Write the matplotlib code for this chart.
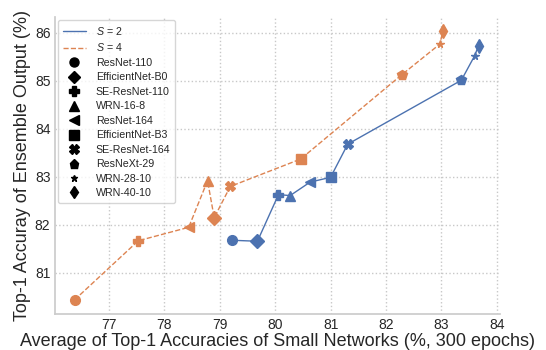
import numpy as np
import matplotlib
matplotlib.use('Agg')
import matplotlib.pyplot as plt
import seaborn as sns
from matplotlib.lines import Line2D

models = ['ResNet-110', 'EfficientNet-B0', 'SE-ResNet-110', 'WRN-16-8', 'ResNet-164',
          'EfficientNet-B3', 'SE-ResNet-164', 'ResNeXt-29', 'WRN-28-10', 'WRN-40-10']
markers = ['o', 'D', 'P', '^', '<', 's', 'X', 'p', '*', 'd']

# S = 2
s2_x = [79.23, 79.68, 80.06, 80.27, 80.63, 81.00, 81.31, 83.36, 83.60, 83.67]
s2_y = [81.68, 81.66, 82.63, 82.61, 82.89, 82.99, 83.68, 85.01, 85.52, 85.73]
# S = 4
s4_x = [76.38, 78.90, 77.53, 78.78, 78.44, 80.46, 79.19, 82.28, 82.97, 83.03]
s4_y = [80.44, 82.15, 81.67, 82.92, 81.95, 83.37, 82.80, 85.12, 85.76, 86.04]

sns.set_theme(style='whitegrid', rc={'grid.linestyle': ':', 'grid.color': '#c8c8c8'})
plt.rcParams['font.family'] = ['Liberation Sans', 'DejaVu Sans']
plt.rcParams['mathtext.fontset'] = 'custom'
plt.rcParams['mathtext.it'] = 'Liberation Sans:italic'
plt.rcParams['mathtext.rm'] = 'Liberation Sans'

blue = '#4C72B0'
orange = '#DD8452'

fig = plt.figure(figsize=(5.46, 3.5), dpi=100)
ax = fig.add_axes([0.100, 0.102, 0.815, 0.850])

def draw(xs, ys, color, ls):
    order = np.argsort(xs)
    ax.plot(np.array(xs)[order], np.array(ys)[order], color=color, ls=ls, lw=1, zorder=2)
    for x, y, m in zip(xs, ys, markers):
        ms = 5.5 if m == '*' else 7
        ax.plot(x, y, marker=m, color=color, ms=ms, ls='none', zorder=3)

draw(s2_x, s2_y, blue, '-')
draw(s4_x, s4_y, orange, '--')

ax.set_xlim(76.02, 84.05)
ax.set_ylim(80.14, 86.33)
ax.set_xticks(range(77, 85))
ax.set_yticks(range(81, 87))
ax.tick_params(labelsize=10, length=0, pad=3)
ax.set_xlabel('Average of Top-1 Accuracies of Small Networks (%, 300 epochs)', fontsize=13, labelpad=0.5)
ax.set_ylabel('Top-1 Accuray of Ensemble Output (%)', fontsize=13, labelpad=3)
sns.despine(ax=ax)
for sp in ['left', 'bottom']:
    ax.spines[sp].set_color('#cccccc')

handles = [Line2D([], [], color=blue, lw=1, ls='-', label='$S$ = 2'),
           Line2D([], [], color=orange, lw=1, ls='--', label='$S$ = 4')]
for name, m in zip(models, markers):
    handles.append(Line2D([], [], color='black', marker=m, ls='none',
                          ms=5 if m == '*' else 6.5, label=name))
ax.legend(handles=handles, loc='upper left', fontsize=7.7, frameon=True,
          borderpad=0.45, labelspacing=0.42, handlelength=2.2, handletextpad=0.9,
          borderaxespad=0.3)

fig.savefig('out.png', dpi=100)
